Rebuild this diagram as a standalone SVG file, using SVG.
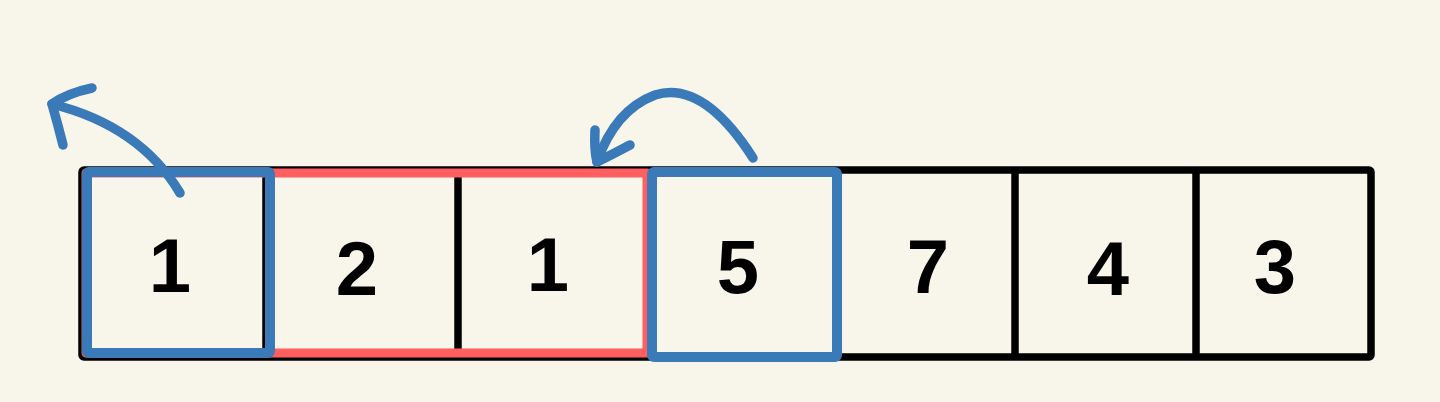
<svg xmlns="http://www.w3.org/2000/svg" width="1440" height="402" viewBox="0 0 1440 402">
<defs>
<style>
.bg{fill:#F8F6EB}
.blk{fill:none;stroke:#000;stroke-width:7.5;stroke-linecap:round;stroke-linejoin:round}
.red{fill:none;stroke:#FF5F5F;stroke-width:9;stroke-linejoin:round}
.blue{fill:none;stroke:#3A7AB8;stroke-width:10;stroke-linejoin:round;stroke-linecap:round}
.arr{fill:none;stroke:#3A7AB8;stroke-width:9.5;stroke-linecap:round;stroke-linejoin:round}
.num{font-family:"Liberation Sans",Arial,sans-serif;font-weight:bold;font-size:76px;fill:#000;text-anchor:middle}
</style>
</defs>
<rect class="bg" x="0" y="0" width="1440" height="402"/>
<g id="array">
<rect class="blk" x="82" y="170" width="1289" height="187" rx="2"/>
<line class="blk" x1="266" y1="172" x2="266" y2="355"/>
<line class="blk" x1="458" y1="172" x2="458" y2="355"/>
<line class="blk" x1="647" y1="172" x2="647" y2="355"/>
<line class="blk" x1="1015" y1="172" x2="1015" y2="355"/>
<line class="blk" x1="1196" y1="172" x2="1196" y2="355"/>
</g>
<g id="window">
<rect class="red" x="86" y="173" width="561" height="180"/>
</g>
<g id="cell-0"><rect class="blue" x="87" y="172" width="183" height="181" rx="2"/><text class="num" x="170" y="292">1</text></g>
<g id="cell-1"><text class="num" x="357" y="295">2</text></g>
<g id="cell-2"><text class="num" x="548" y="291">1</text></g>
<g id="cell-3"><rect class="blue" x="652" y="172" width="185" height="185" rx="2"/><text class="num" x="738" y="293">5</text></g>
<g id="cell-4"><text class="num" x="928" y="293">7</text></g>
<g id="cell-5"><text class="num" x="1108" y="295">4</text></g>
<g id="cell-6"><text class="num" x="1275" y="293">3</text></g>
<g id="connectors">
<path class="arr" d="M180,193 Q140,126 52,104"/>
<path class="arr" d="M92,88 Q68,93 52,104 Q58,125 63,145"/>
<path class="arr" d="M753,158 Q703,80 655,95 Q615,110 597,162"/>
<path class="arr" d="M595,130 Q594,150 597,162 Q615,153 630,145"/>
</g>
</svg>
